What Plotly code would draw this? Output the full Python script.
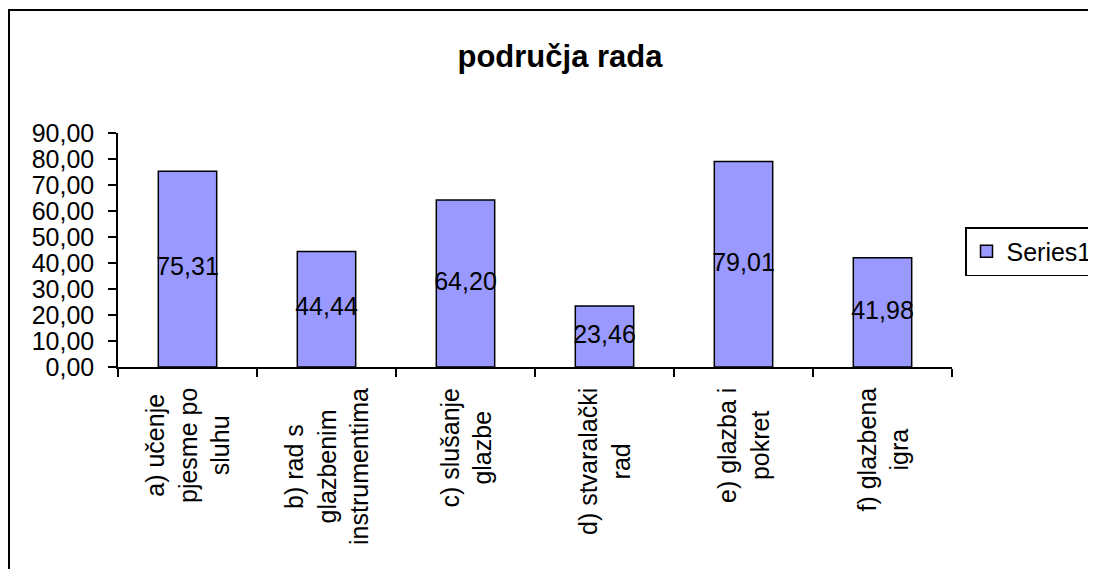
import plotly.graph_objects as go

categories = ["a) učenje<br>pjesme po<br>sluhu",
              "b) rad s<br>glazbenim<br>instrumentima",
              "c) slušanje<br>glazbe",
              "d) stvaralački<br>rad",
              "e) glazba i<br>pokret",
              "f) glazbena<br>igra"]
keys = ["a", "b", "c", "d", "e", "f"]
values = [75.31, 44.44, 64.20, 23.46, 79.01, 41.98]
value_labels = ["75,31", "44,44", "64,20", "23,46", "79,01", "41,98"]
series_name = "Series1"
title_text = "područja rada"

W, H = 1096, 569
OFF = 8  # page body margin shifts the figure by 8px
L, R, T, B = 118 - OFF, 952 - OFF, 133 - OFF, 367 - OFF
FONT = "Liberation Sans, Arial, sans-serif"

fig = go.Figure()
fig.add_trace(go.Bar(
    x=keys, y=values, name=series_name,
    marker=dict(color="#9999FF", line=dict(color="black", width=1.5)),
    showlegend=True, hoverinfo="skip",
))
fig.add_trace(go.Scatter(
    x=keys, y=[v / 2 for v in values], mode="text", text=value_labels,
    textposition="middle center", textfont=dict(size=25, color="black", family=FONT),
    showlegend=False, cliponaxis=False, hoverinfo="skip",
))


def px_x(p):
    return (p - OFF - L) / (R - L)


def px_y(p):
    return (B - (p - OFF)) / (B - T)


for k, c in zip(keys, categories):
    fig.add_annotation(x=k, xref="x", y=px_y(386), yref="paper",
                       text=c, textangle=-90, showarrow=False,
                       xanchor="center", yanchor="top", align="center",
                       font=dict(size=25, color="black", family=FONT))

# outer chart frame
fig.add_shape(type="rect", xref="paper", yref="paper",
              x0=px_x(9), x1=px_x(1120), y0=px_y(10), y1=px_y(600),
              line=dict(color="black", width=2), fillcolor="rgba(0,0,0,0)", layer="below")

fig.update_layout(
    width=W, height=H,
    margin=dict(l=L, r=W - R, t=T, b=H - B, pad=0),
    paper_bgcolor="white", plot_bgcolor="white",
    separators=",.",
    font=dict(family=FONT, size=25, color="black"),
    title=dict(text="<b>" + title_text + "</b>", x=(560 - OFF) / W, xref="container",
               xanchor="center", y=1 - (56 - OFF) / H, yref="container", yanchor="middle",
               font=dict(size=31, family=FONT, color="black")),
    bargap=0.58,
    showlegend=True,
    legend=dict(x=(965 - OFF) / W, xref="container", y=1 - (227 - OFF) / H, yref="container",
                xanchor="left", yanchor="top",
                bordercolor="black", borderwidth=1.5, bgcolor="white",
                font=dict(size=25, family=FONT, color="black"),
                itemwidth=30, tracegroupgap=0),
    xaxis=dict(type="category", categoryorder="array", categoryarray=keys,
               showticklabels=False, ticks="outside", ticklen=8, tickwidth=1.5,
               tickcolor="black", tickson="boundaries",
               showline=True, linecolor="black", linewidth=1.5,
               showgrid=False, zeroline=False, range=[-0.5, 5.5]),
    yaxis=dict(range=[0, 90], dtick=10, tick0=0, tickformat=".2f",
               ticks="outside", ticklen=8, tickwidth=1.5, tickcolor="black",
               ticklabelstandoff=9,
               showline=True, linecolor="black", linewidth=1.5,
               showgrid=False, zeroline=False,
               tickfont=dict(size=25, family=FONT, color="black")),
)

fig.write_html("out.html")
